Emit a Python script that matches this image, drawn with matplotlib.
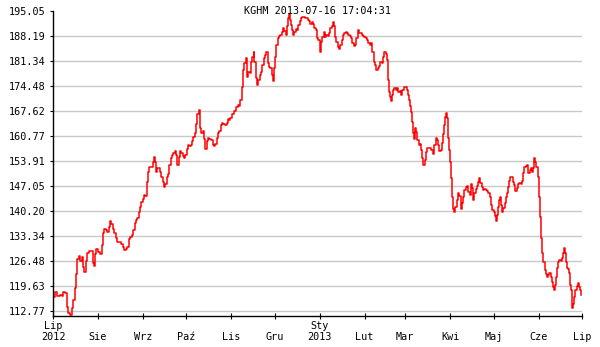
import numpy as np
import pandas as pd
import matplotlib
matplotlib.use('Agg')
import matplotlib.pyplot as plt

plt.rcParams['font.family'] = ['DejaVu Sans Mono']

# Notowania KGHM: dni od 2012-07-01 i kurs zamknięcia
days = [0, 1.4, 3.0, 4.8, 6.0, 7.1, 8.3, 9.4, 10.6, 11.7, 12.9, 14.0, 15.2, 15.9, 16.8,
        17.7, 18.6, 19.8, 20.9, 21.6, 22.5, 23.7, 25.1, 26.4, 27.4, 28.1, 28.8, 29.7,
        31.3, 32.4, 33.6, 34.3, 35.2, 36.6, 37.5, 38.4, 39.3, 40.2, 41.2, 42.3, 43.2,
        44.4, 45.8, 46.9, 48.1, 49.2, 50.4, 51.3, 52.2, 53.4, 54.5, 55.4, 56.3, 57.3,
        58.2, 59.1, 60.0, 61.0, 61.9, 62.8, 63.7, 64.6, 65.5, 66.5, 67.4, 68.3, 69.2,
        69.9, 70.6, 71.3, 72.0, 72.9, 73.8, 74.8, 75.7, 76.6, 77.5, 78.4, 79.3, 80.3,
        81.2, 82.1, 83.0, 84.2, 84.9, 85.8, 86.7, 87.6, 88.5, 89.5, 90.4, 91.3, 92.2,
        93.2, 94.1, 95.0, 95.9, 96.8, 97.8, 98.7, 99.6, 100.5, 101.4, 102.3, 103.3,
        104.2, 105.1, 106.0, 107.0, 107.9, 109.2, 110.2, 111.1, 112.0, 112.9, 113.8,
        114.8, 115.7, 116.6, 117.5, 118.9, 119.8, 120.7, 121.7,
        122.2, 123.8, 125.1, 126.1, 127.4, 128.4, 129.3, 130.2, 130.9, 132.0, 133.0,
        133.9, 134.8, 135.7, 136.6, 137.6, 138.5, 138.9, 139.9, 140.8, 141.7, 142.6,
        143.5, 144.5, 145.4, 146.3, 147.2, 148.1, 149.1, 150.0, 150.9, 151.6, 152.3,
        153.2, 154.1, 155.0, 156.0, 156.9, 157.8, 158.7, 159.6, 160.6, 161.2, 161.9,
        162.6, 163.3, 164.0, 164.7, 165.6, 166.5, 167.5, 168.4, 169.3, 170.2, 171.1,
        172.1, 173.0, 173.9, 174.8, 175.7, 176.7, 177.6, 178.5, 179.4, 180.3, 181.3,
        182.2, 183.1, 184.0, 184.9, 185.9, 186.8, 187.7, 188.6, 189.5, 190.5, 191.4,
        192.3, 193.2, 194.1, 194.8, 195.5, 196.4, 197.4, 198.3, 199.2, 200.1, 201.0,
        202.0, 202.9, 203.8, 204.7, 205.6, 206.6, 207.5, 208.4, 209.3, 210.2, 211.2,
        212.1, 213.0, 213.9, 214.8, 215.8, 216.7, 217.6, 218.5, 219.4, 220.4, 221.3,
        222.2, 223.1, 224.0, 225.0, 225.9, 226.8, 227.7, 228.6, 229.6, 230.3, 230.9,
        231.6, 232.3, 233.0, 233.7, 234.6, 235.5, 236.5, 237.4, 238.3, 239.2, 240.1,
        241.1, 242.0,
        242.9, 244.0, 244.9, 245.6, 246.3, 247.2, 247.9, 248.6, 249.3, 250.0, 250.7,
        251.4, 252.3, 253.2, 253.9, 254.6, 255.3, 256.0, 256.7, 257.3, 258.3, 259.2,
        260.1, 261.0, 262.0, 262.4, 263.1, 264.0, 264.9, 265.9, 266.5, 267.5, 268.4,
        269.1, 269.8, 270.5, 270.9, 271.6, 272.3, 273.0, 273.7, 274.4, 275.1, 275.7,
        276.7, 277.6, 278.5, 279.4, 280.3, 281.3, 281.9, 282.9, 283.8, 284.7, 285.6,
        286.6, 287.5, 288.4, 289.3, 290.0, 290.7, 291.6, 292.5, 293.5, 294.1, 294.8,
        295.7, 296.7, 297.6, 298.5, 299.4, 300.4, 301.3, 302.2, 303.1, 304.0, 305.0,
        305.9, 306.6, 307.3, 307.9, 308.6, 309.3, 310.0, 310.7, 311.6, 312.3, 313.2,
        313.9, 314.6, 315.3, 316.2, 317.1, 318.1, 319.0, 319.9, 320.8, 321.7, 322.7,
        323.6, 324.3, 325.2, 326.1, 327.0, 328.0, 328.9, 329.8, 330.7, 331.4, 332.1,
        332.8, 333.5, 334.2, 334.9, 335.5, 336.2, 336.9, 337.6, 338.3, 339.2, 339.9,
        340.6, 341.5, 342.4, 343.4, 344.0, 344.7, 345.4, 346.1, 346.8, 347.5, 348.4,
        349.3, 350.3, 351.2, 351.9, 352.6, 353.3, 353.9, 354.6, 355.3, 356.0, 356.7,
        357.4, 357.9, 358.3, 359.0, 359.7, 360.4, 361.3, 362.2, 362.9, 363.6, 364.3]

prices = [116.7, 118.0, 116.9, 117.15, 116.9, 118.0, 117.6, 113.8, 112.3, 111.7, 113.5,
          115.8, 119.0, 122.9, 126.9, 127.85, 126.6, 127.5, 124.9, 123.6, 126.6, 128.8,
          129.3, 129.2, 125.8, 125.1, 128.4, 129.7, 129.0, 128.4, 130.9, 134.1, 135.2,
          135.0, 134.5, 135.9, 137.5, 136.6, 135.2, 134.2, 132.7, 131.8, 131.8, 131.1,
          130.2, 129.5, 129.7, 130.4, 132.4, 133.1, 133.6, 135.0, 137.0, 137.7, 138.2,
          140.0, 141.3, 142.7, 143.6, 144.5, 144.3, 148.2, 151.0, 152.2, 152.2, 152.2,
          153.7, 154.9, 153.7, 151.0, 151.9, 151.9, 151.0, 149.6, 148.2, 146.8, 147.6,
          149.4, 150.3, 152.8, 154.6, 155.6, 156.0, 156.7, 155.6, 152.8, 155.1, 156.7,
          156.2, 155.3, 154.6, 155.6, 157.1, 158.3, 157.9, 158.3, 159.5, 160.4, 161.7,
          164.0, 166.8, 167.9, 162.9, 161.5, 162.2, 159.9, 157.1, 159.5, 160.1, 159.9,
          159.7, 158.3, 157.9, 158.6, 160.1, 161.5, 162.2, 163.8, 164.4, 164.1, 163.8,
          164.3, 165.3, 165.1,
          165.6, 166.7, 167.6, 168.8, 169.2, 168.9, 170.6, 174.3, 178.9, 180.7, 182.1,
          177.0, 178.4, 178.0, 181.1, 182.5, 183.9, 181.1, 176.6, 174.75, 176.1, 177.5,
          178.4, 180.2, 182.1, 183.0, 183.9, 180.7, 179.8, 179.3, 177.5, 175.8, 179.3,
          182.5, 185.7, 187.7, 188.3, 188.6, 189.4, 190.3, 189.6, 188.5, 191.0, 193.0,
          194.1, 192.6, 191.2, 189.8, 188.6, 189.4, 190.1, 189.9, 191.2, 192.3, 193.0,
          193.5, 193.5, 193.2, 193.0, 192.6, 192.3, 191.4, 192.0, 191.4, 190.3, 189.8,
          187.55, 187.1, 183.7, 186.6, 188.0, 189.4, 188.0, 188.5, 188.3, 188.9, 190.3,
          191.0, 192.1, 191.0, 188.0, 186.6, 185.3, 184.6, 185.7, 187.1, 188.5, 188.9,
          189.2, 188.9, 188.5, 188.3, 187.55, 186.2, 185.5, 185.7, 187.55, 189.8, 189.1,
          188.9, 188.6, 188.3, 187.9, 187.55, 187.1, 186.2, 185.7, 186.4, 183.9, 181.1,
          180.2, 178.9, 179.5, 180.05, 181.0, 180.7, 182.5, 183.9, 183.2, 181.6, 176.1,
          172.9, 171.5, 170.3, 172.0, 173.4, 174.0, 173.4, 173.9, 172.75, 173.1, 172.0,
          173.4, 174.3,
          174.2, 173.4, 172.0, 170.6, 169.0, 167.4, 164.7, 161.7, 159.85, 162.9, 162.0,
          159.7, 158.3, 158.7, 156.9, 154.6, 152.8, 152.8, 154.2, 156.5, 157.4, 157.6,
          157.4, 157.0, 156.5, 155.9, 158.3, 160.1, 159.6, 158.3, 156.7, 157.0, 158.8,
          161.3, 163.8, 166.1, 167.0, 165.6, 160.1, 156.9, 153.7, 149.2, 144.0, 140.7,
          140.0, 141.4, 143.2, 145.05, 144.2, 140.7, 142.5, 144.1, 146.0, 146.7, 147.05,
          145.5, 144.5, 147.6, 146.4, 143.2, 145.05, 146.1, 147.05, 148.2, 149.2, 148.0,
          146.7, 146.0, 146.2, 146.0, 145.8, 145.2, 144.1, 141.8, 140.4, 140.0, 138.8,
          137.5, 139.1, 141.4, 143.2, 144.1, 141.8, 140.0, 140.9, 142.3, 144.0, 145.05,
          146.8, 148.5, 149.6, 149.4, 148.2, 147.3, 145.8, 146.4, 147.6, 147.95, 147.6,
          148.5, 150.7, 152.35, 152.5, 152.8, 150.6, 151.4, 151.9, 151.0, 151.9, 154.6,
          153.7, 152.2, 152.4, 149.6, 144.1, 138.6, 132.7, 128.6, 126.3, 124.0, 122.9,
          122.2, 122.6, 123.1, 122.2, 120.8, 119.4, 118.5, 119.9, 122.2, 124.5, 126.3,
          126.75, 126.5, 127.2, 128.8, 130.0, 128.6, 126.3, 124.7, 124.2, 123.1, 119.9,
          118.5, 115.8, 113.5, 114.8, 116.7, 118.5, 119.6, 120.5, 119.4, 118.5, 117.1]

y_ticks = [112.77, 119.63, 126.48, 133.34, 140.20, 147.05, 153.91,
           160.77, 167.62, 174.48, 181.34, 188.19, 195.05]
month_labels = ['Lip\n2012', '\nSie', '\nWrz', '\nPaź', '\nLis', '\nGru', 'Sty\n2013',
                '\nLut', '\nMar', '\nKwi', '\nMaj', '\nCze', '\nLip']
title = 'KGHM 2013-07-16 17:04:31'

start = pd.Timestamp('2012-07-01')
dates = start + pd.to_timedelta(days, unit='D')
month_starts = pd.date_range('2012-07-01', '2013-07-01', freq='MS')

fig = plt.figure(figsize=(6.0, 3.47), dpi=100)
ax = fig.add_axes([53 / 600, 1 - 316 / 347, 529 / 600, 305 / 347])

ax.plot(dates, prices, color='#ff0000', linewidth=1.1, drawstyle='steps-post')

ax.set_xlim(month_starts[0], month_starts[-1])
ax.set_ylim(111.40, 195.05)

ax.set_yticks(y_ticks)
ax.set_yticklabels(['%.2f' % v for v in y_ticks])
ax.set_xticks(month_starts)
ax.set_xticklabels(month_labels, linespacing=1.2)

ax.tick_params(axis='both', labelsize=7.3, colors='black', width=0.8)
ax.tick_params(axis='y', direction='out', length=2, pad=3.5)
ax.tick_params(axis='x', direction='inout', length=4, pad=1.5)

ax.grid(axis='y', color='#c8c8c8', linewidth=1.0)
ax.set_axisbelow(True)
ax.yaxis.get_gridlines()[-1].set_visible(False)

for side in ['top', 'right']:
    ax.spines[side].set_visible(False)
for side in ['left', 'bottom']:
    ax.spines[side].set_linewidth(1.0)
    ax.spines[side].set_color('black')

fig.text((53 + 582) / 2 / 600, 1 - 10.5 / 347, title, ha='center', va='center', fontsize=7.3)

fig.savefig('out.png', dpi=100)
